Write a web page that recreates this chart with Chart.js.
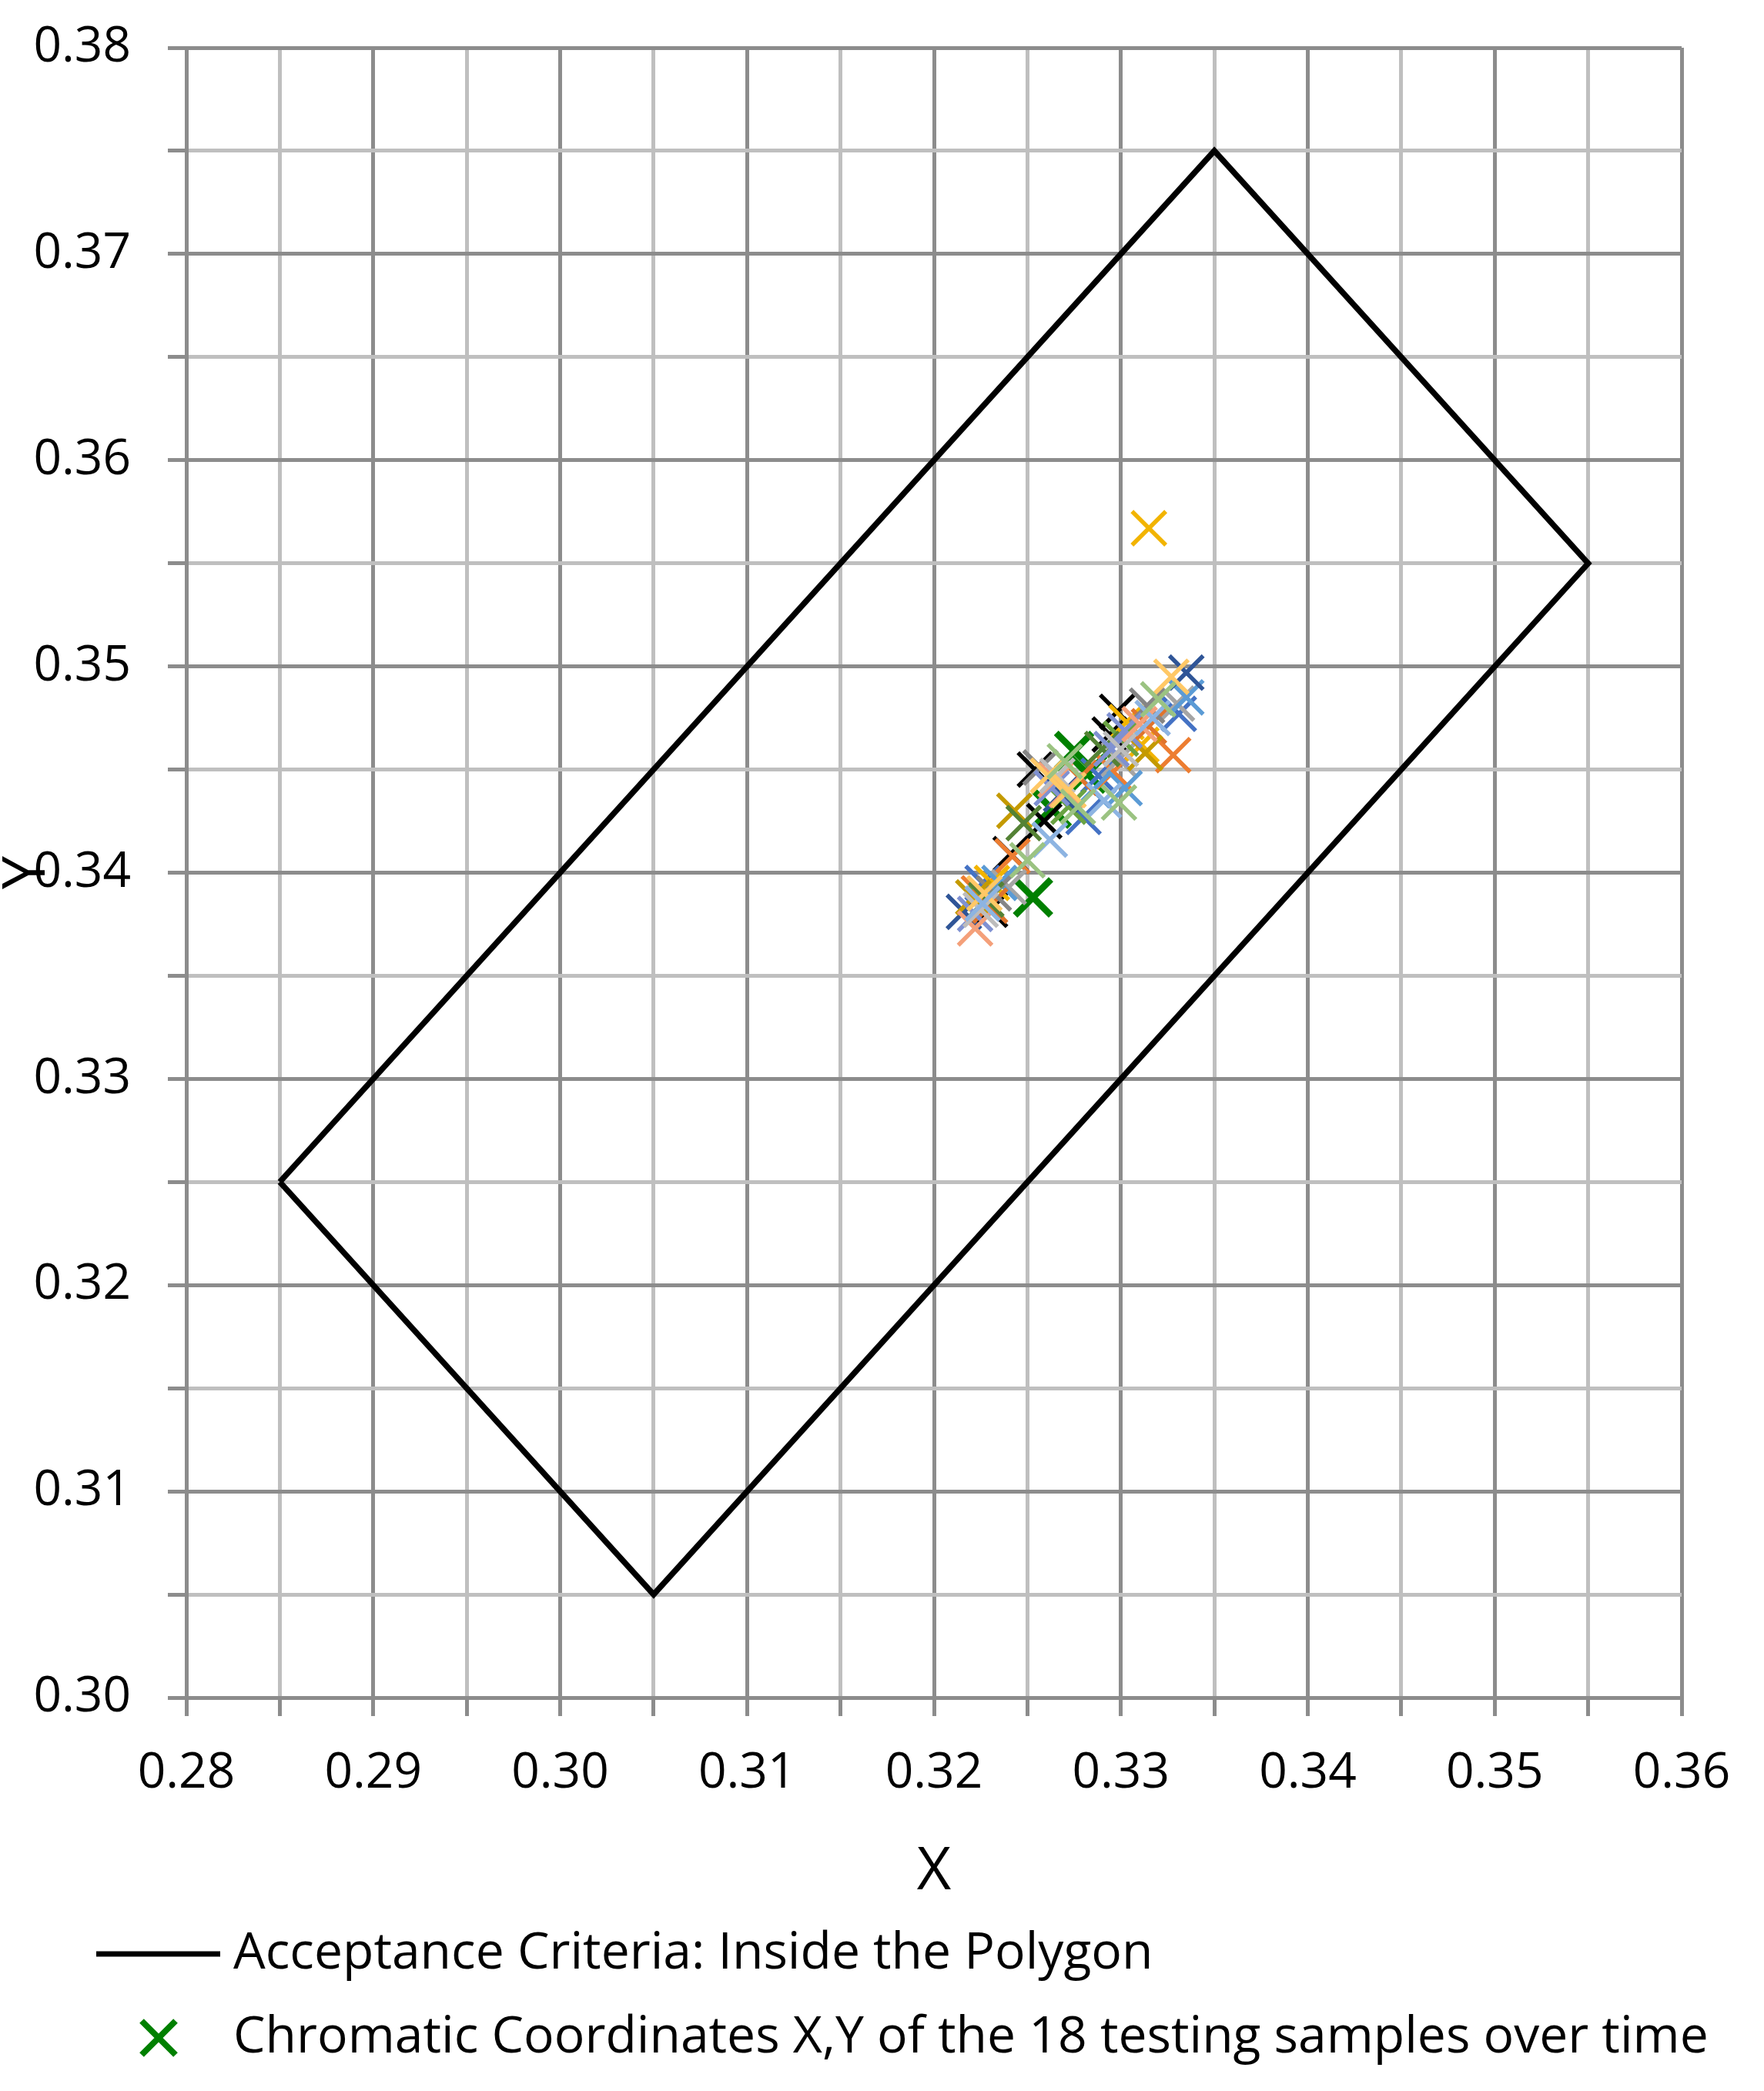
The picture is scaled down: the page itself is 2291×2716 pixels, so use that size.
<!DOCTYPE html>
<html>
<head>
<meta charset="utf-8">
<script src="https://cdn.jsdelivr.net/npm/chart.js@4.4.1/dist/chart.umd.min.js"></script>
<style>
  html, body { margin: 0; padding: 0; background: #fff; overflow: hidden; }
  canvas { display: block; }
</style>
</head>
<body>
<canvas id="myChart" width="2291" height="2716"></canvas>
<script>
// acceptance polygon (x, y corners, closed)
const polygonX = [0.285, 0.335, 0.355, 0.305, 0.285];
const polygonY = [0.325, 0.375, 0.355, 0.305, 0.325];

// chromatic coordinates of the samples, one list per sample
const sampleX = [
  [0.3253, 0.3263, 0.3282, 0.3275],                 // green (legend series)
  [0.3230, 0.3241, 0.3259, 0.3254, 0.3294, 0.3298], // black
  [0.3226, 0.3280, 0.3288, 0.3331],
  [0.3224, 0.3242, 0.3296, 0.3328],
  [0.3240, 0.3270, 0.3299, 0.3330],
  [0.3231, 0.3303, 0.3311, 0.3315],
  [0.3235, 0.3285, 0.3302, 0.3335],
  [0.3228, 0.3272, 0.3300],
  [0.3216, 0.3268, 0.3335],
  [0.3230, 0.3278, 0.3315],
  [0.3232, 0.3257, 0.3314],
  [0.3221, 0.3243, 0.3313],
  [0.3228, 0.3248, 0.3290],
  [0.3222, 0.3263, 0.3295, 0.3302],
  [0.3222, 0.3271, 0.3265, 0.3310],
  [0.3225, 0.3266, 0.3300],
  [0.3227, 0.3261, 0.3272, 0.3327],
  [0.3226, 0.3262, 0.3291, 0.3317],
  [0.3250, 0.3270, 0.3277, 0.3299, 0.3320]
];
const sampleY = [
  [0.3388, 0.3431, 0.3448, 0.3459],
  [0.3382, 0.3409, 0.3425, 0.3450, 0.3467, 0.3478],
  [0.3395, 0.3427, 0.3447, 0.3477],
  [0.3390, 0.3408, 0.3449, 0.3457],
  [0.3393, 0.3440, 0.3455, 0.3482],
  [0.3395, 0.3473, 0.3462, 0.3567],
  [0.3395, 0.3440, 0.3441, 0.3485],
  [0.3386, 0.3432, 0.3465],
  [0.3381, 0.3438, 0.3497],
  [0.3384, 0.3446, 0.3471],
  [0.3390, 0.3451, 0.3481],
  [0.3388, 0.3430, 0.3458],
  [0.3387, 0.3424, 0.3460],
  [0.3380, 0.3441, 0.3460, 0.3469],
  [0.3373, 0.3440, 0.3445, 0.3472],
  [0.3382, 0.3447, 0.3460],
  [0.3390, 0.3447, 0.3440, 0.3495],
  [0.3385, 0.3416, 0.3435, 0.3475],
  [0.3406, 0.3454, 0.3432, 0.3434, 0.3484]
];
const sampleColors = [
  '#008000', '#000000', '#4472c4', '#ed7d31', '#a5a5a5', '#f2b400', '#5b9bd5',
  '#6aa343', '#2f5597', '#e0742c', '#858585', '#c49a00', '#548235', '#7f91d2',
  '#f4a07a', '#bdbdbd', '#ffc866', '#8db4e2', '#9bc382'
];

const polygonLabel = 'Acceptance Criteria: Inside the Polygon';
const samplesLabel = 'Chromatic Coordinates X,Y of the 18 testing samples over time';

const isMajor = v => Math.abs(v * 100 - Math.round(v * 100)) < 1e-6;
const gridColor = c => (c.tick && isMajor(c.tick.value)) ? '#8c8c8c' : '#bfbfbf';

// legend icons: long black line, thick green x (offset inside the legend box)
function lineIcon() {
  const c = document.createElement('canvas');
  c.width = 223; c.height = 10;
  const g = c.getContext('2d');
  g.strokeStyle = '#000'; g.lineWidth = 7;
  g.beginPath(); g.moveTo(62, 5); g.lineTo(223, 5); g.stroke();
  return c;
}
function crossIcon() {
  const c = document.createElement('canvas');
  c.width = 119; c.height = 60;
  const g = c.getContext('2d');
  g.strokeStyle = '#008000'; g.lineWidth = 8;
  g.beginPath();
  g.moveTo(91 - 22, 8); g.lineTo(91 + 22, 52);
  g.moveTo(91 + 22, 8); g.lineTo(91 - 22, 52);
  g.stroke();
  return c;
}

const datasets = [{
  label: polygonLabel,
  data: polygonX.map((x, i) => ({x: x, y: polygonY[i]})),
  showLine: true,
  borderColor: '#000',
  borderWidth: 7.5,
  pointRadius: 0,
  fill: false,
  order: 1
}];
sampleX.forEach((xs, s) => {
  datasets.push({
    label: s === 0 ? samplesLabel : 'Sample ' + s,
    data: xs.map((x, i) => ({x: x, y: sampleY[s][i]})),
    showLine: false,
    pointStyle: 'crossRot',
    pointRadius: s === 0 ? 33 : 31,
    pointBorderWidth: s === 0 ? 8.5 : 5.5,
    borderColor: sampleColors[s],
    backgroundColor: sampleColors[s],
    order: -s   // later samples on top, like the spreadsheet
  });
});

Chart.defaults.font.family = "'Open Sans', 'DejaVu Sans', sans-serif";
Chart.defaults.color = '#000';

const ctx = document.getElementById('myChart');
const chart = new Chart(ctx, {
  type: 'scatter',
  data: {datasets: datasets},
  options: {
    responsive: false,
    devicePixelRatio: 1,
    animation: false,
    events: [],
    layout: {padding: {left: 36, top: 62, right: 0, bottom: 26}},
    plugins: {
      tooltip: {enabled: false},
      legend: {
        position: 'bottom',
        align: 'start',
        labels: {
          usePointStyle: true,
          pointStyleWidth: 191,
          boxHeight: 66,
          padding: 43,
          font: {size: 66},
          color: '#000',
          generateLabels: () => [
            {text: polygonLabel, pointStyle: lineIcon(), fillStyle: 'transparent', strokeStyle: 'transparent', lineWidth: 0, hidden: false, datasetIndex: 0},
            {text: samplesLabel, pointStyle: crossIcon(), fillStyle: 'transparent', strokeStyle: 'transparent', lineWidth: 0, hidden: false, datasetIndex: 1}
          ]
        }
      }
    },
    scales: {
      x: {
        type: 'linear',
        min: 0.28,
        max: 0.36,
        afterFit: s => { s.height = 257; s.paddingLeft = 0; s.paddingRight = 0; },
        ticks: {
          stepSize: 0.005,
          autoSkip: false,
          maxRotation: 0,
          padding: 36,
          font: {size: 64},
          callback: v => isMajor(v) ? v.toFixed(2) : ''
        },
        grid: {color: gridColor, lineWidth: 5, tickLength: 24, tickColor: '#8c8c8c', tickWidth: 5},
        border: {color: '#8c8c8c', width: 5},
        title: {display: true, text: 'X', font: {size: 77}, padding: {top: 0, bottom: -16}}
      },
      y: {
        type: 'linear',
        min: 0.30,
        max: 0.38,
        afterFit: s => { s.width = 206; s.paddingTop = 0; s.paddingBottom = 0; },
        ticks: {
          stepSize: 0.005,
          autoSkip: false,
          padding: 48,
          font: {size: 64},
          callback: v => isMajor(v) ? v.toFixed(2) : ''
        },
        grid: {color: gridColor, lineWidth: 5, tickLength: 24, tickColor: '#8c8c8c', tickWidth: 5},
        border: {color: '#8c8c8c', width: 5},
        title: {display: true, text: 'Y', font: {size: 77}, padding: {top: -46, bottom: 0}}
      },
      // empty right-hand margin so the legend can run to the edge
      yRight: {
        type: 'linear',
        position: 'right',
        afterFit: s => { s.width = 107; s.paddingTop = 0; s.paddingBottom = 0; },
        ticks: {display: false},
        grid: {display: false},
        border: {display: false}
      }
    }
  }
});
</script>
</body>
</html>
